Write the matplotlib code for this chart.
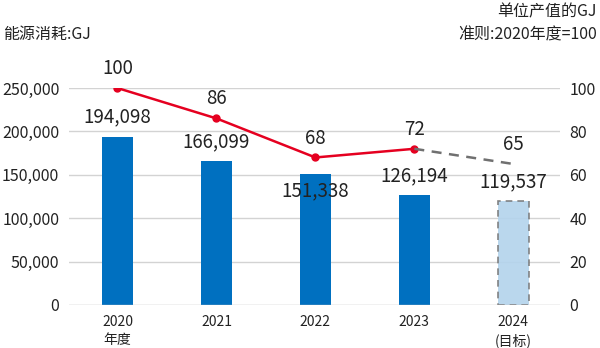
import matplotlib.pyplot as plt
import numpy as np

plt.rcParams['font.family'] = ['Noto Sans CJK SC', 'DejaVu Sans']

years = ['2020\n年度', '2021', '2022', '2023', '2024\n(目标)']
energy = [194098, 166099, 151338, 126194, 119537]
index = [100, 86, 68, 72, 65]
# offset of bar value labels in points (2022 sits inside the bar)
bar_label_dy = [14, 14, -12.5, 14, 14]

blue = '#0070C0'
light_blue = '#B3D3EC'
red = '#E50020'
grid_c = '#D3D3D3'

fig = plt.figure(figsize=(6, 3.48), dpi=100)
ax = fig.add_axes([0.115, 0.1236, 0.818, 0.6234])
ax2 = ax.twinx()

x = np.arange(len(years))
ax.set_zorder(1)
ax2.set_zorder(2)
ax.patch.set_visible(False)

for y in range(50000, 250001, 50000):
    ax.axhline(y, color=grid_c, lw=1, zorder=0)
ax.axhline(0, color='#BBBBBB', lw=1, zorder=3)

ax.bar(x[:4], energy[:4], width=0.31, color=blue, zorder=2)
ax.bar(x[4], energy[4], width=0.31, color=light_blue, alpha=0.9,
       edgecolor='#777777', linestyle=(0, (4, 3)), lw=1.2, zorder=2)

for i, v in enumerate(energy):
    ax.annotate(f'{v:,}', (x[i], v), xytext=(0, bar_label_dy[i]),
                textcoords='offset points', ha='center', va='center',
                fontsize=13.5, color='#222222', zorder=5)

ax.set_ylim(0, 250000)
ax.set_xlim(-0.49, 4.47)
ax.set_yticks(range(0, 250001, 50000))
ax.set_yticklabels([f'{v:,}' for v in range(0, 250001, 50000)])
ax.set_xticks(x)
ax.set_xticklabels(years, fontsize=10, color='#222222', linespacing=1.3)

ax2.plot(x[:4], index[:4], color=red, lw=1.8, marker='o', ms=5, zorder=4)
ax2.plot(x[3:], index[3:], color='#707070', lw=1.8, ls=(0, (4, 3)), zorder=4)
for i, v in enumerate(index):
    ax2.annotate(str(v), (x[i], v), xytext=(0, 14), textcoords='offset points',
                 ha='center', va='center', fontsize=13.5, color='#222222')
ax2.set_ylim(0, 100)
ax2.set_yticks(range(0, 101, 20))

for a in (ax, ax2):
    for s in a.spines.values():
        s.set_visible(False)
    a.tick_params(length=0, labelsize=11.5, labelcolor='#222222')
ax.tick_params(axis='x', labelsize=10, pad=7.5)
ax.tick_params(axis='y', pad=7)
ax2.tick_params(axis='y', pad=7)

fig.text(0.005, 0.9, '能源消耗:GJ', fontsize=11.5, color='#222222', va='center')
fig.text(0.995, 0.965, '单位产值的GJ', fontsize=11.5, color='#222222', va='center', ha='right')
fig.text(0.995, 0.9, '准则:2020年度=100', fontsize=11.5, color='#222222', va='center', ha='right')

fig.savefig('out.png', dpi=100)
